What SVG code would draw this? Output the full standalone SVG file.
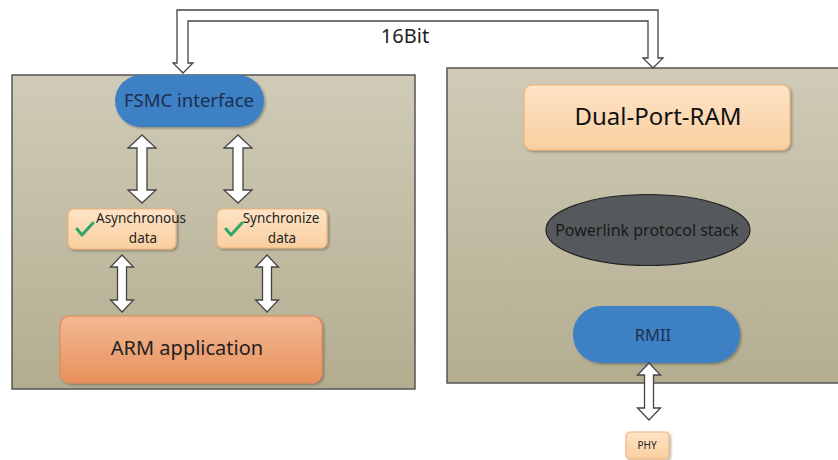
<svg xmlns="http://www.w3.org/2000/svg" width="838" height="460" viewBox="0 0 838 460">
<defs>
<linearGradient id="panelG" x1="0" y1="0" x2="0" y2="1">
<stop offset="0" stop-color="#d0cbb7"/>
<stop offset="1" stop-color="#b3ad90"/>
</linearGradient>
<linearGradient id="peachG" x1="0" y1="0" x2="0" y2="1">
<stop offset="0" stop-color="#fde3c6"/>
<stop offset="1" stop-color="#f9cfa0"/>
</linearGradient>
<linearGradient id="armG" x1="0" y1="0" x2="0" y2="1">
<stop offset="0" stop-color="#f3b893"/>
<stop offset="1" stop-color="#e8915c"/>
</linearGradient>
<filter id="sh" x="-10%" y="-10%" width="125%" height="130%">
<feDropShadow dx="1.5" dy="1.5" stdDeviation="1.2" flood-color="#000" flood-opacity="0.3"/>
</filter>
</defs>
<style>
.panel{fill:url(#panelG);stroke:#555;stroke-width:1.5}
.pill{fill:#3d80c3;filter:url(#sh)}
.peach{fill:url(#peachG);stroke:#f2b37a;stroke-width:1.2;filter:url(#sh)}
.arm{fill:url(#armG);stroke:#e48a55;stroke-width:1.2;filter:url(#sh)}
.t{font-family:"Noto Sans","Open Sans","Liberation Sans",sans-serif;text-anchor:middle}
.blue{fill:#1d2f4f}
.dark{fill:#222}
.arr{fill:#fff;stroke:#444;stroke-width:1.3;stroke-linejoin:miter}
.chk{fill:none;stroke:#2fa768;stroke-width:3;stroke-linecap:round;stroke-linejoin:round}
</style>
<rect width="838" height="460" fill="#fff"/>
<g id="left-panel"><rect class="panel" x="12" y="75" width="403" height="314"/></g>
<g id="right-panel"><rect class="panel" x="447" y="68" width="400" height="315"/></g>
<g id="fsmc">
<rect class="pill" x="115" y="75" width="149" height="52" rx="26"/>
<text class="t blue" x="189" y="107" font-size="18.5">FSMC interface</text>
</g>
<g id="async">
<rect class="peach" x="68" y="209" width="108" height="40" rx="6"/>
<path class="chk" d="M77 229 L82 235 L93 223"/>
<text class="t dark" x="141" y="223" font-size="13.5">Asynchronous</text>
<text class="t dark" x="143" y="243" font-size="13.5">data</text>
</g>
<g id="sync">
<rect class="peach" x="217" y="209" width="110" height="39" rx="6"/>
<path class="chk" d="M226 229 L231 235 L242 223"/>
<text class="t dark" x="281" y="223" font-size="13.5">Synchronize</text>
<text class="t dark" x="282" y="243" font-size="13.5">data</text>
</g>
<g id="arm">
<rect class="arm" x="60" y="316" width="262" height="67" rx="10"/>
<text class="t dark" x="187" y="355" font-size="20">ARM application</text>
</g>
<g id="dpram">
<rect class="peach" x="524" y="85" width="266" height="65" rx="8"/>
<text class="t" fill="#111" x="658" y="125" font-size="24">Dual-Port-RAM</text>
</g>
<g id="powerlink">
<ellipse cx="648" cy="230" rx="102" ry="35.5" fill="#55595b" stroke="#222" stroke-width="1.2"/>
<text class="t" fill="#1a1a1a" x="647" y="236" font-size="16">Powerlink protocol stack</text>
</g>
<g id="rmii">
<rect class="pill" x="573" y="306" width="167" height="57" rx="28"/>
<text class="t blue" x="653" y="341" font-size="16.5">RMII</text>
</g>
<g id="phy">
<rect class="peach" x="626" y="432" width="43" height="27" rx="4"/>
<text class="t dark" x="647" y="449" font-size="10">PHY</text>
</g>
<g id="connectors">
<path class="arr" d="M177 63 L177 10 L658 10 L658 58 L663 58 L653 68 L643 58 L648 58 L648 21 L188 21 L188 63 L193 63 L183 73 L173 63 Z"/>
<text class="t" fill="#222" x="405" y="43" font-size="20">16Bit</text>
<path class="arr" d="M142 135 L156 148 L147 148 L147 190 L156 190 L142 203 L128 190 L137 190 L137 148 L128 148 Z"/>
<path class="arr" d="M238 135 L252 148 L243 148 L243 190 L252 190 L238 203 L224 190 L233 190 L233 148 L224 148 Z"/>
<path class="arr" d="M122 255 L133.5 267 L126.5 267 L126.5 300 L133.5 300 L122 312 L110.5 300 L117.5 300 L117.5 267 L110.5 267 Z"/>
<path class="arr" d="M267 255 L278.5 267 L271.5 267 L271.5 300 L278.5 300 L267 312 L255.5 300 L262.5 300 L262.5 267 L255.5 267 Z"/>
<path class="arr" d="M649 363 L660.5 375 L653.5 375 L653.5 408 L660.5 408 L649 420 L637.5 408 L644.5 408 L644.5 375 L637.5 375 Z"/>
</g>
</svg>
